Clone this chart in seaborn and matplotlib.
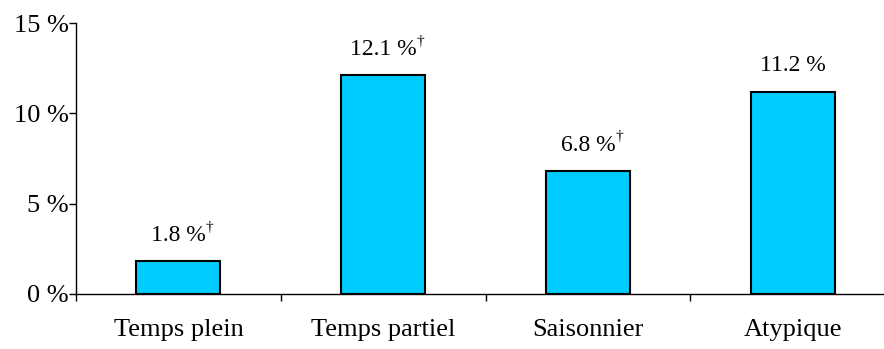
import matplotlib
matplotlib.use("Agg")
import matplotlib.pyplot as plt
import seaborn as sns
import pandas as pd

categories = ["Temps plein", "Temps partiel", "Saisonnier", "Atypique"]
values = [1.8, 12.1, 6.8, 11.2]
value_labels = ["1.8 %", "12.1 %", "6.8 %", "11.2 %"]
daggers = [True, True, True, False]
yticks = [0, 5, 10, 15]
ytick_labels = ["0 %", "5 %", "10 %", "15 %"]

sns.set_theme(style="white")
plt.rcParams["font.family"] = ["Liberation Serif", "DejaVu Serif"]
plt.rcParams["text.color"] = "black"
plt.rcParams["xtick.color"] = "black"
plt.rcParams["ytick.color"] = "black"
plt.rcParams["axes.labelcolor"] = "black"

fig = plt.figure(figsize=(8.84, 3.49), dpi=100)
ax = fig.add_axes([76 / 884, 55 / 349, (895 - 76) / 884, (294 - 23) / 349])

df = pd.DataFrame({"cat": categories, "val": values})
sns.barplot(data=df, x="cat", y="val", color="#00CCFF", saturation=1,
            edgecolor="black", linewidth=1.5, width=0.41, ax=ax)

ax.set_xlim(-0.5, 3.5)
ax.set_ylim(0, 15)
ax.set_xlabel("")
ax.set_ylabel("")
for s in ["top", "right"]:
    ax.spines[s].set_visible(False)
for s in ["left", "bottom"]:
    ax.spines[s].set_color("black")
    ax.spines[s].set_linewidth(1.0)

ax.set_yticks(yticks)
ax.set_yticklabels(ytick_labels, fontsize=19, color="black")
ax.tick_params(axis="y", direction="out", length=5, width=1, color="black", pad=0, left=True)

ax.set_xticks(range(len(categories)))
ax.set_xticklabels(categories, fontsize=19, color="black")
ax.tick_params(axis="x", which="major", length=0, pad=18)
ax.set_xticks([-0.5, 0.5, 1.5, 2.5, 3.5], minor=True)
ax.tick_params(axis="x", which="minor", direction="out", length=5, width=1, color="black", bottom=True)

for i, (v, lab, d) in enumerate(zip(values, value_labels, daggers)):
    t = ax.annotate(lab, xy=(i, v), xytext=(0, 11), textcoords="offset points",
                    ha="center", va="bottom", fontsize=17, color="black")
    if d:
        ax.annotate("†", xy=(1.0, 0.6), xycoords=t, ha="left", va="bottom",
                    fontsize=11, color="black")

fig.savefig("out.png", dpi=100)
